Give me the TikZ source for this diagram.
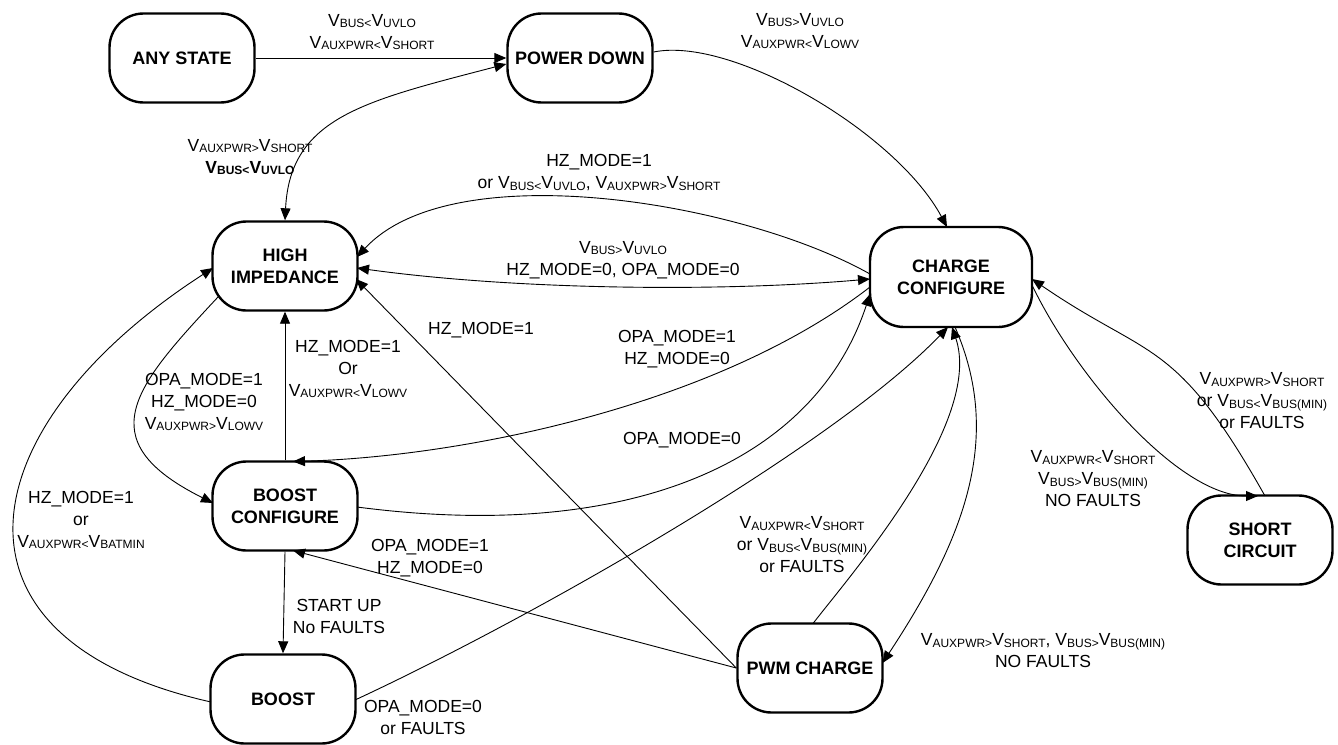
\documentclass[tikz,border=0pt]{standalone}
\usepackage{fontspec}
\setmainfont{Liberation Sans}
\usetikzlibrary{arrows.meta}
\newcommand{\subf}{\fontsize{12}{12}\selectfont}
\newcommand{\Vx}[1]{V\raisebox{-1.5pt}{\subf #1}}
\newcommand{\vlt}{\raisebox{-1.5pt}{\subf<}}
\newcommand{\vgt}{\raisebox{-1.5pt}{\subf>}}
\begin{document}
\begin{tikzpicture}[x=1pt,y=-1pt,
  >={Triangle[length=12pt,width=10pt]},
  state/.style={draw, line width=2.4pt, rounded corners=34pt, minimum width=145pt,
    minimum height=89pt, inner sep=0pt, align=center,
    font=\fontsize{18}{22}\selectfont\bfseries},
  lbl/.style={align=center, inner sep=0pt, font=\fontsize{17.5}{22}\selectfont},
  edge/.style={line width=0.9pt}]
\useasboundingbox (0,0) rectangle (1338,744);
% states
\node[state] (any) at (182,58) {ANY STATE};
\node[state] (pd) at (580,58) {POWER DOWN};
\node[state] (hi) at (285,266) {HIGH\\IMPEDANCE};
\node[state, minimum width=162pt, minimum height=100pt] (cc) at (951,277) {CHARGE\\CONFIGURE};
\node[state] (bc) at (285,506) {BOOST\\CONFIGURE};
\node[state] (bo) at (283,699) {BOOST};
\node[state] (pwm) at (810,668) {PWM CHARGE};
\node[state] (sc) at (1260,540) {SHORT\\CIRCUIT};
% connectors
\draw[edge,->] (any.east) -- (pd.west);
\draw[edge,<->] ([shift={(0,6)}]pd.west) .. controls +(-142,37) and +(5,-103) .. (hi.north);
\draw[edge,->] ([shift={(0,-6)}]pd.east) .. controls +(78,-16) and +(-51,-95) .. ([shift={(-4,-50)}]cc.center);
\draw[edge,->] ([shift={(-81,-3)}]cc.center) .. controls +(-130,-73) and +(95,-103) .. ([shift={(72,-9)}]hi.center);
\draw[edge,<->] ([shift={(72,2)}]hi.center) .. controls +(160,22) and +(-150,13) .. ([shift={(-81,2)}]cc.center);
\draw[edge,->] (pwm.west) -- ([shift={(71,13)}]hi.center);
\draw[edge,->] (bc.north) -- (hi.south);
\draw[edge,->] ([shift={(-67,31)}]hi.center) .. controls +(-83,89) and +(-126,-63) .. ([shift={(-72,-3)}]bc.center);
\draw[edge,->] ([shift={(-72,3)}]bo.center) .. controls +(-284,-64) and +(-243,157) .. ([shift={(-72,2)}]hi.center);
\draw[edge,->] (bc.south) -- (bo.north);
\draw[edge,->] (pwm.west) -- ([shift={(8,44.5)}]bc.center);
\draw[edge,->] ([shift={(-81,10)}]cc.center) .. controls +(-151,117) and +(174,-5) .. ([shift={(8,-44.5)}]bc.center);
\draw[edge,->] ([shift={(72,1)}]bc.center) .. controls +(283,37) and +(-53,162) .. ([shift={(-81,17)}]cc.center);
\draw[edge,->] ([shift={(72,1)}]bo.center) .. controls +(185,-86) and +(-112,117) .. ([shift={(-3,50)}]cc.center);
\draw[edge,->] ([shift={(3,-44.5)}]pwm.center) .. controls +(37,-48) and +(32,95) .. ([shift={(1,50)}]cc.center);
\draw[edge,->] ([shift={(4,50)}]cc.center) .. controls +(48,110) and +(83,-126) .. ([shift={(72.5,-5)}]pwm.center);
\draw[edge,->] ([shift={(81,8)}]cc.center) .. controls +(43,90) and +(-80,0) .. ([shift={(-2,-44)}]sc.center);
\draw[edge,->] ([shift={(5,-44)}]sc.center) .. controls +(-90,-160) and +(118,81) .. ([shift={(81,2)}]cc.center);
% labels
\node[lbl] (l1) at (372,32) {\Vx{BUS}\vlt\Vx{UVLO}\\\Vx{AUXPWR}\vlt\Vx{SHORT}};
\node[lbl] (l2) at (800,31) {\Vx{BUS}\vgt\Vx{UVLO}\\\Vx{AUXPWR}\vlt\Vx{LOWV}};
\node[lbl] (l3) at (250,157) {\Vx{AUXPWR}\vgt\Vx{SHORT}\\{\bfseries\Vx{BUS}\vlt\Vx{UVLO}}};
\node[lbl] (l4) at (599,173) {HZ\_MODE=1\\or \Vx{BUS}\vlt\Vx{UVLO}, \Vx{AUXPWR}\vgt\Vx{SHORT}};
\node[lbl] (l5) at (623,260) {\Vx{BUS}\vgt\Vx{UVLO}\\HZ\_MODE=0, OPA\_MODE=0};
\node[lbl] (l6) at (481,330) {HZ\_MODE=1};
\node[lbl] (l7) at (348,369) {HZ\_MODE=1\\Or\\\Vx{AUXPWR}\vlt\Vx{LOWV}};
\node[lbl] (l8) at (204,402) {OPA\_MODE=1\\HZ\_MODE=0\\\Vx{AUXPWR}\vgt\Vx{LOWV}};
\node[lbl] (l9) at (81,520) {HZ\_MODE=1\\or\\\Vx{AUXPWR}\vlt\Vx{BATMIN}};
\node[lbl] (l10) at (339,616) {START UP\\No FAULTS};
\node[lbl] (l11) at (430,558) {OPA\_MODE=1\\HZ\_MODE=0};
\node[lbl] (l12) at (677,349) {OPA\_MODE=1\\HZ\_MODE=0};
\node[lbl] (l13) at (682,440) {OPA\_MODE=0};
\node[lbl] (l14) at (423,717) {OPA\_MODE=0\\or FAULTS};
\node[lbl] (l15) at (802,545) {\Vx{AUXPWR}\vlt\Vx{SHORT}\\or \Vx{BUS}\vlt\Vx{BUS(MIN)}\\or FAULTS};
\node[lbl] (l16) at (1043,651) {\Vx{AUXPWR}\vgt\Vx{SHORT}, \Vx{BUS}\vgt\Vx{BUS(MIN)}\\NO FAULTS};
\node[lbl] (l17) at (1093,479) {\Vx{AUXPWR}\vlt\Vx{SHORT}\\\Vx{BUS}\vgt\Vx{BUS(MIN)}\\NO FAULTS};
\node[lbl] (l18) at (1262,401) {\Vx{AUXPWR}\vgt\Vx{SHORT}\\or \Vx{BUS}\vlt\Vx{BUS(MIN)}\\or FAULTS};
\end{tikzpicture}
\end{document}
